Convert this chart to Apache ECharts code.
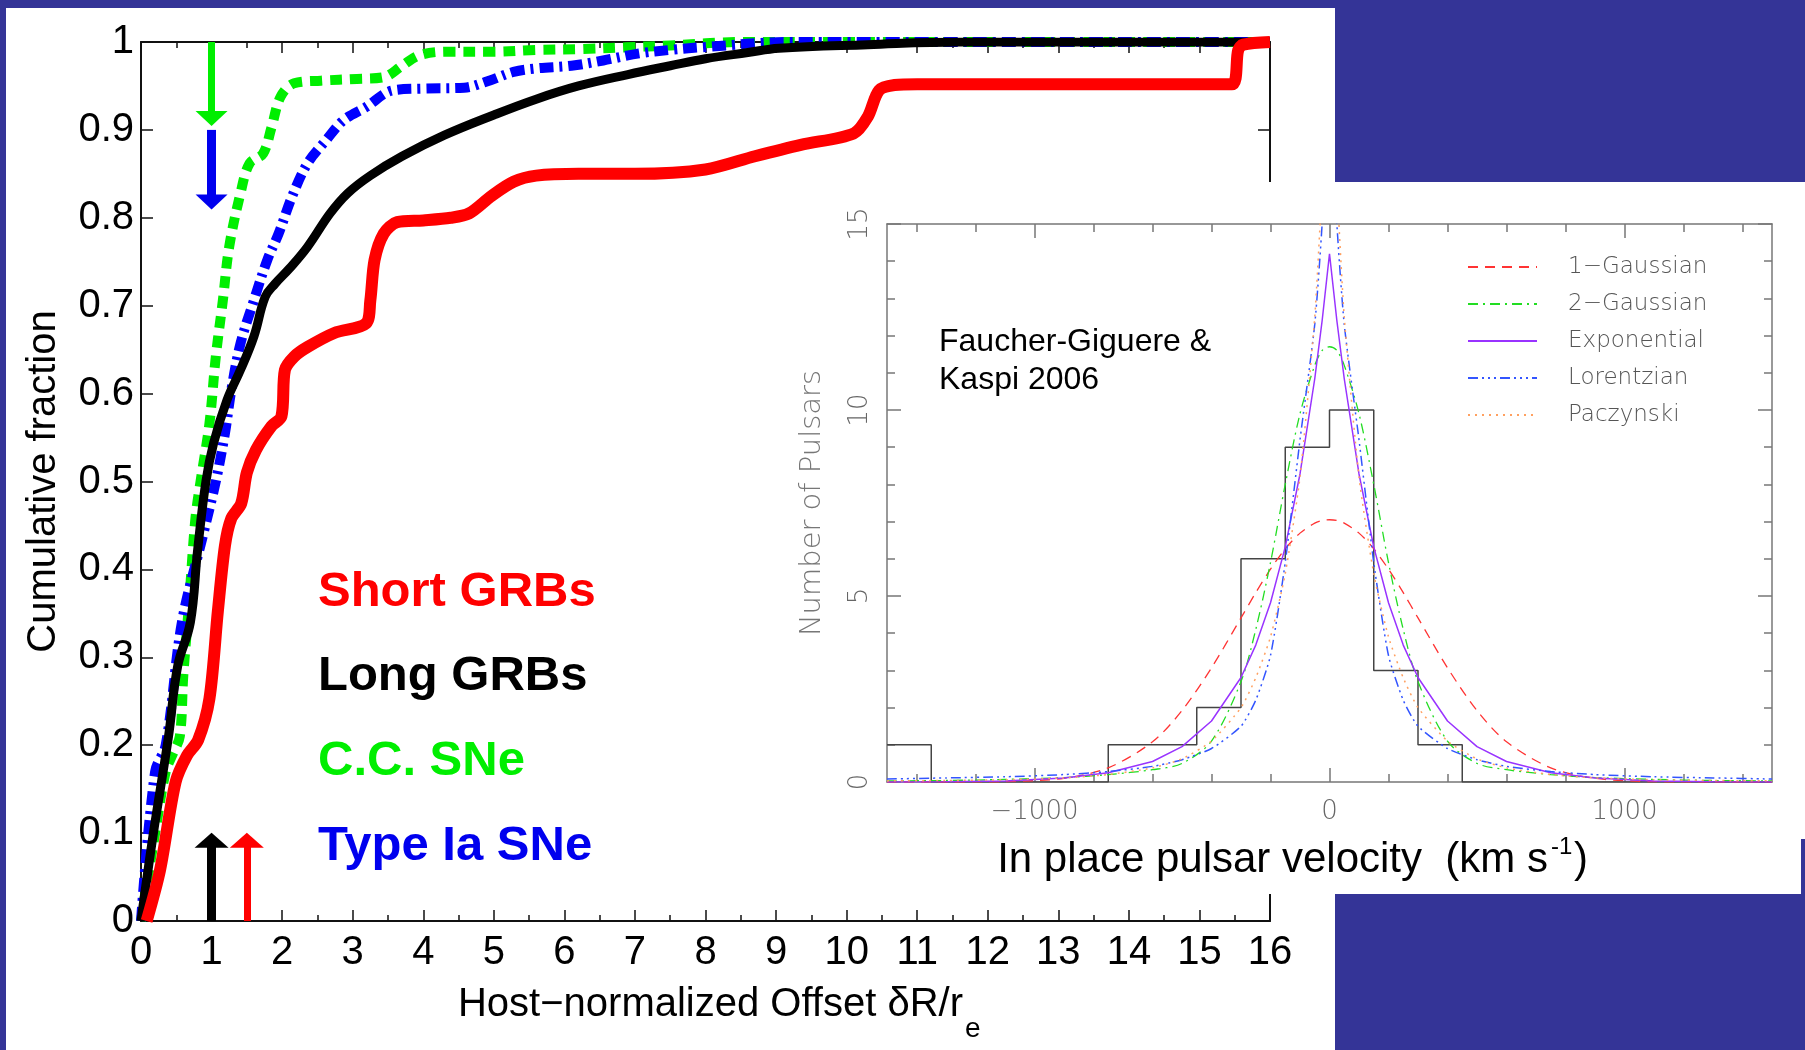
<!DOCTYPE html>
<html>
<head>
<meta charset="utf-8">
<script src="https://cdn.jsdelivr.net/npm/echarts@6/dist/echarts.min.js"></script>
<style>
  html, body { margin: 0; padding: 0; background: #343497; }
  #chart { width: 1805px; height: 1050px; }
</style>
</head>
<body>
<div id="chart"></div>
<script>
const FONT = "'Liberation Sans', Arial, sans-serif";
const IDL_FONT = "'DejaVu Sans', sans-serif";
const SLIDE_BLUE = "#343497";

// main panel: cumulative offset distributions
const shortX = [0.08, 0.27, 0.49, 0.65, 0.81, 0.97, 1.09, 1.19, 1.28, 1.42, 1.5, 1.63, 1.85, 1.99, 2.04, 2.17, 2.36, 2.74, 3.19, 3.25, 3.31, 3.44, 3.63, 4.0, 4.39, 4.65, 4.97, 5.28, 5.6, 6.2, 7.0, 8.0, 8.7, 9.35, 10.1, 10.3, 10.46, 10.68, 11.0, 15.46, 15.55, 15.62, 16];
const shortF = [0, 0.058, 0.158, 0.188, 0.206, 0.253, 0.353, 0.427, 0.458, 0.475, 0.51, 0.536, 0.563, 0.574, 0.627, 0.642, 0.653, 0.669, 0.68, 0.706, 0.752, 0.782, 0.795, 0.797, 0.8, 0.805, 0.825, 0.841, 0.848, 0.85, 0.85, 0.855, 0.87, 0.883, 0.896, 0.915, 0.945, 0.951, 0.952, 0.952, 0.991, 0.997, 1];

const longX = [0, 0.17, 0.39, 0.52, 0.7, 0.8, 0.92, 1.03, 1.22, 1.41, 1.6, 1.76, 1.9, 2.1, 2.36, 2.68, 2.93, 3.25, 3.7, 4.3, 5.0, 5.6, 6.2, 6.9, 7.5, 8.0, 8.6, 9.04, 10.3, 11.6, 16];
const longF = [0, 0.097, 0.21, 0.29, 0.34, 0.42, 0.5, 0.544, 0.593, 0.627, 0.665, 0.71, 0.725, 0.742, 0.767, 0.805, 0.828, 0.848, 0.87, 0.894, 0.917, 0.935, 0.95, 0.963, 0.973, 0.981, 0.988, 0.993, 0.997, 1, 1];

const ccX = [0, 0.2, 0.35, 0.45, 0.55, 0.6, 0.68, 0.77, 0.84, 0.97, 1.06, 1.16, 1.25, 1.41, 1.54, 1.73, 1.85, 1.98, 2.17, 2.55, 3.06, 3.44, 3.7, 3.95, 4.33, 4.97, 5.6, 6.23, 6.87, 7.5, 8.5, 16];
const ccF = [0, 0.1, 0.17, 0.19, 0.21, 0.28, 0.36, 0.457, 0.498, 0.566, 0.642, 0.706, 0.767, 0.828, 0.862, 0.873, 0.903, 0.938, 0.953, 0.956, 0.958, 0.96, 0.973, 0.985, 0.989, 0.989, 0.991, 0.992, 0.994, 0.996, 1, 1];

const iaX = [0, 0.2, 0.35, 0.58, 0.87, 1.06, 1.19, 1.28, 1.41, 1.6, 1.79, 1.95, 2.14, 2.36, 2.62, 2.87, 3.19, 3.57, 4.0, 4.58, 4.9, 5.28, 5.6, 6.1, 6.55, 7.06, 7.5, 7.94, 9.2, 16];
const iaF = [0, 0.17, 0.2, 0.34, 0.436, 0.5, 0.555, 0.604, 0.657, 0.706, 0.752, 0.782, 0.824, 0.862, 0.888, 0.911, 0.926, 0.945, 0.947, 0.948, 0.955, 0.966, 0.97, 0.973, 0.979, 0.987, 0.991, 0.994, 1, 1];

// median / limit arrows (offset, fraction)
const arrowCC = [[1, 1], [1, 0.913]];
const arrowIa = [[1, 0.9], [1, 0.818]];
const arrowLong = [[1, 0], [1, 0.092]];
const arrowShort = [[1.5, 0], [1.5, 0.092]];

// inset: pulsar velocity histogram and fits
const histEdges = [-1500, -1350, -1200, -1050, -900, -750, -600, -450, -300, -150, 0, 150, 300, 450, 600, 750, 900, 1050, 1200, 1350, 1500];
const histCounts = [1, 0, 0, 0, 0, 1, 1, 2, 6, 9, 10, 3, 1, 0, 0, 0, 0, 0, 0, 0];

const fitV = [-1500, -1300, -1100, -900, -750, -600, -500, -400, -300, -250, -200, -150, -100, -50, -25, 0, 25, 50, 100, 150, 200, 250, 300, 400, 500, 600, 750, 900, 1100, 1300, 1500];
const gauss1 = [0, 0, 0.01, 0.1, 0.38, 1.08, 1.92, 3.07, 4.41, 5.09, 5.72, 6.27, 6.69, 6.96, 7.03, 7.05, 7.03, 6.96, 6.69, 6.27, 5.72, 5.09, 4.41, 3.07, 1.92, 1.08, 0.38, 0.1, 0.01, 0, 0];
const gauss2 = [0.03, 0.04, 0.07, 0.12, 0.2, 0.33, 0.5, 1.1, 2.7, 4.1, 5.9, 8.0, 9.9, 11.2, 11.6, 11.7, 11.6, 11.2, 9.9, 8.0, 5.9, 4.1, 2.7, 1.1, 0.5, 0.33, 0.2, 0.12, 0.07, 0.04, 0.03];
const expo = [0, 0.01, 0.03, 0.11, 0.25, 0.55, 0.95, 1.64, 2.81, 3.68, 4.82, 6.32, 8.28, 10.84, 12.4, 14.2, 12.4, 10.84, 8.28, 6.32, 4.82, 3.68, 2.81, 1.64, 0.95, 0.55, 0.25, 0.11, 0.03, 0.01, 0];
const lorentz = [0.08, 0.11, 0.14, 0.2, 0.28, 0.42, 0.6, 0.9, 1.5, 2.2, 3.4, 5.9, 9.2, 12.3, 15.0, 19.0, 15.0, 12.3, 9.2, 5.9, 3.4, 2.2, 1.5, 0.9, 0.6, 0.42, 0.28, 0.2, 0.14, 0.11, 0.08];
const pacz = [0.03, 0.04, 0.06, 0.11, 0.2, 0.38, 0.62, 1.1, 2.0, 2.8, 3.9, 5.6, 8.2, 12.5, 16.0, 19.0, 16.0, 12.5, 8.2, 5.6, 3.9, 2.8, 2.0, 1.1, 0.62, 0.38, 0.2, 0.11, 0.06, 0.04, 0.03];

const insetMinorTicks = [-1400, -1200, -1000, -800, -600, -400, -200, 0, 200, 400, 600, 800, 1000, 1200, 1400];
const insetXLabels = [-1000, 0, 1000];
const fitNames = ["1\u2212Gaussian", "2\u2212Gaussian", "Exponential", "Lorentzian", "Paczynski"];

const pts = (xs, ys) => xs.map((x, i) => [x, ys[i]]);
const histData = histEdges.map((e, i) => [e, histCounts[Math.min(i, histCounts.length - 1)]]);

const chart = echarts.init(document.getElementById("chart"), null, {renderer: "canvas"});

function mainX(position, labels) {
    return {
        gridIndex: 0, type: "value", min: 0, max: 16, interval: 1, position,
        axisLine: {onZero: false, lineStyle: {color: "#111", width: 2}},
        axisTick: {inside: true, length: 11, lineStyle: {color: "#111", width: 1.5}},
        minorTick: {show: true, splitNumber: 2, length: 6, lineStyle: {color: "#111", width: 1.5}},
        splitLine: {show: false},
        axisLabel: {show: labels, margin: 12, color: "#000", fontSize: 40, fontFamily: FONT}
    };
}

function mainY(position, labels) {
    const ax = {
        gridIndex: 0, type: "value", min: 0, max: 1, interval: 0.1, position,
        axisLine: {onZero: false, lineStyle: {color: "#111", width: 2}},
        axisTick: {inside: true, length: 12, lineStyle: {color: "#111", width: 1.5}},
        splitLine: {show: false},
        axisLabel: {
            show: labels, margin: 7, color: "#000", fontSize: 40, fontFamily: FONT,
            formatter: v => String(+v.toFixed(1))
        }
    };
    if (labels) {
        ax.name = "Cumulative fraction";
        ax.nameLocation = "middle";
        ax.nameGap = 77;
        ax.nameTextStyle = {color: "#000", fontSize: 40, fontFamily: FONT};
    }
    return ax;
}

const insetLine = {color: "#777", width: 1.5};

function insetX(position, major) {
    return {
        gridIndex: 1, type: "value", min: -1500, max: 1500, position, z: 6,
        axisLine: {show: !major, onZero: false, lineStyle: insetLine},
        axisTick: {inside: true, length: major ? 14 : 8, customValues: major ? insetXLabels : insetMinorTicks, lineStyle: insetLine},
        splitLine: {show: false},
        axisLabel: {
            show: !major && position === "bottom", customValues: insetXLabels, margin: 17,
            color: "#666", fontSize: 26, fontFamily: IDL_FONT, fontWeight: 300,
            formatter: v => String(v).replace("-", "\u2212")
        }
    };
}

function insetY(position, major) {
    const ax = {
        gridIndex: 1, type: "value", min: 0, max: 15, interval: major ? 5 : 1, position, z: 6,
        axisLine: {show: !major, onZero: false, lineStyle: insetLine},
        axisTick: {inside: true, length: major ? 14 : 8, lineStyle: insetLine},
        splitLine: {show: false},
        axisLabel: {
            show: !major && position === "left", rotate: 90, margin: 14,
            color: "#666", fontSize: 26, fontFamily: IDL_FONT, fontWeight: 300,
            formatter: v => (v % 5 === 0 ? String(v) : "")
        }
    };
    if (!major && position === "left") {
        ax.name = "Number of Pulsars";
        ax.nameLocation = "middle";
        ax.nameGap = 60;
        ax.nameTextStyle = {color: "#777", fontSize: 29, fontFamily: IDL_FONT, fontWeight: 300};
    }
    return ax;
}

function arrow(pair, color, width, size) {
    return {
        silent: true, symbol: ["none", "triangle"], symbolSize: size,
        label: {show: false},
        lineStyle: {color, width, type: "solid", opacity: 1},
        data: [[{coord: pair[0]}, {coord: pair[1]}]]
    };
}

function mainSeries(name, xs, ys, color, width, type, smooth, mark) {
    return {
        name, type: "line", xAxisIndex: 0, yAxisIndex: 0, z: 2,
        data: pts(xs, ys), symbol: "none", smooth,
        lineStyle: {color, width, type, cap: "butt", join: "round"},
        markLine: mark
    };
}

function fitSeries(name, ys, color, type, width, smooth) {
    return {
        name, type: "line", xAxisIndex: 2, yAxisIndex: 2, z: 7,
        data: pts(fitV, ys), symbol: "none", smooth,
        itemStyle: {color},
        lineStyle: {color, width, type}
    };
}

const legendTexts = [
    ["Short GRBs", "#ff0000", 592],
    ["Long GRBs", "#000000", 676],
    ["C.C. SNe", "#00ee00", 761],
    ["Type Ia SNe", "#0000ee", 846]
];

const option = {
    animation: false,
    backgroundColor: SLIDE_BLUE,
    grid: [
        {left: 141, top: 42, width: 1129, height: 879},
        {left: 887, top: 224, width: 885, height: 558}
    ],
    xAxis: [
        mainX("bottom", true), mainX("top", false),
        insetX("bottom", false), insetX("bottom", true),
        insetX("top", false), insetX("top", true)
    ],
    yAxis: [
        mainY("left", true), mainY("right", false),
        insetY("left", false), insetY("left", true),
        insetY("right", false), insetY("right", true)
    ],
    legend: {
        z: 8, orient: "vertical", left: 1462, top: 249,
        itemWidth: 69, itemHeight: 14, itemGap: 11,
        selectedMode: false, data: fitNames,
        itemStyle: {opacity: 0},
        textStyle: {color: "#555", fontSize: 23, fontFamily: IDL_FONT, fontWeight: 300, lineHeight: 26, padding: [0, 0, 0, 26]}
    },
    graphic: [
        {type: "rect", z: -10, silent: true, shape: {x: 6, y: 8, width: 1329, height: 1042}, style: {fill: "#fff"}},
        {type: "rect", z: 5, silent: true, shape: {x: 790, y: 182, width: 1015, height: 712}, style: {fill: "#fff"}},
        {type: "rect", z: 5, silent: true, shape: {x: 1801, y: 839, width: 4, height: 55}, style: {fill: SLIDE_BLUE}},
        ...legendTexts.map(([t, c, y]) => ({
            type: "text", z: 3, silent: true, x: 318, y,
            style: {text: t, fill: c, font: `bold 49px ${FONT}`, textAlign: "left", textVerticalAlign: "middle"}
        })),
        {type: "text", z: 3, silent: true, x: 963, y: 1005,
         style: {text: "Host\u2212normalized Offset \u03b4R/r", fill: "#000", font: `40px ${FONT}`, textAlign: "right", textVerticalAlign: "middle"}},
        {type: "text", z: 3, silent: true, x: 965, y: 1029,
         style: {text: "e", fill: "#000", font: `28px ${FONT}`, textAlign: "left", textVerticalAlign: "middle"}},
        {type: "text", z: 8, silent: true, x: 939, y: 342,
         style: {text: "Faucher-Giguere &", fill: "#000", font: `32px ${FONT}`, textAlign: "left", textVerticalAlign: "middle"}},
        {type: "text", z: 8, silent: true, x: 939, y: 380,
         style: {text: "Kaspi 2006", fill: "#000", font: `32px ${FONT}`, textAlign: "left", textVerticalAlign: "middle"}},
        {type: "text", z: 8, silent: true, x: 1548, y: 860,
         style: {text: "In place pulsar velocity  (km s", fill: "#000", font: `42px ${FONT}`, textAlign: "right", textVerticalAlign: "middle"}},
        {type: "text", z: 8, silent: true, x: 1551, y: 847,
         style: {text: "-1", fill: "#000", font: `24px ${FONT}`, textAlign: "left", textVerticalAlign: "middle"}},
        {type: "text", z: 8, silent: true, x: 1574, y: 860,
         style: {text: ")", fill: "#000", font: `42px ${FONT}`, textAlign: "left", textVerticalAlign: "middle"}}
    ],
    series: [
        mainSeries("C.C. SNe", ccX, ccF, "#00ee00", 10, [12, 8], 0.35, arrow(arrowCC, "#00ee00", 7, [32, 15])),
        mainSeries("Type Ia SNe", iaX, iaF, "#0000ff", 10, [14, 6, 3, 6], 0.35, arrow(arrowIa, "#0000ee", 9, [32, 15])),
        mainSeries("Long GRBs", longX, longF, "#000000", 9, "solid", 0.4, arrow(arrowLong, "#000000", 9, [34, 15])),
        mainSeries("Short GRBs", shortX, shortF, "#ff0000", 12, "solid", 0.3, arrow(arrowShort, "#ff0000", 7, [34, 15])),
        {
            name: "histogram", type: "line", xAxisIndex: 2, yAxisIndex: 2, z: 7,
            data: histData, step: "end", symbol: "none",
            lineStyle: {color: "#444", width: 1.5}
        },
        fitSeries(fitNames[0], gauss1, "#ff3333", [10, 7], 1.3, 0.3),
        fitSeries(fitNames[1], gauss2, "#22dd22", [10, 5, 2, 5], 1.3, 0.3),
        fitSeries(fitNames[2], expo, "#9933ff", "solid", 1.5, false),
        fitSeries(fitNames[3], lorentz, "#3355ff", [10, 4, 2, 4, 2, 4, 2, 4], 1.5, 0.2),
        fitSeries(fitNames[4], pacz, "#ffa060", [2, 5], 1.5, 0.2)
    ]
};

chart.setOption(option);
</script>
</body>
</html>
